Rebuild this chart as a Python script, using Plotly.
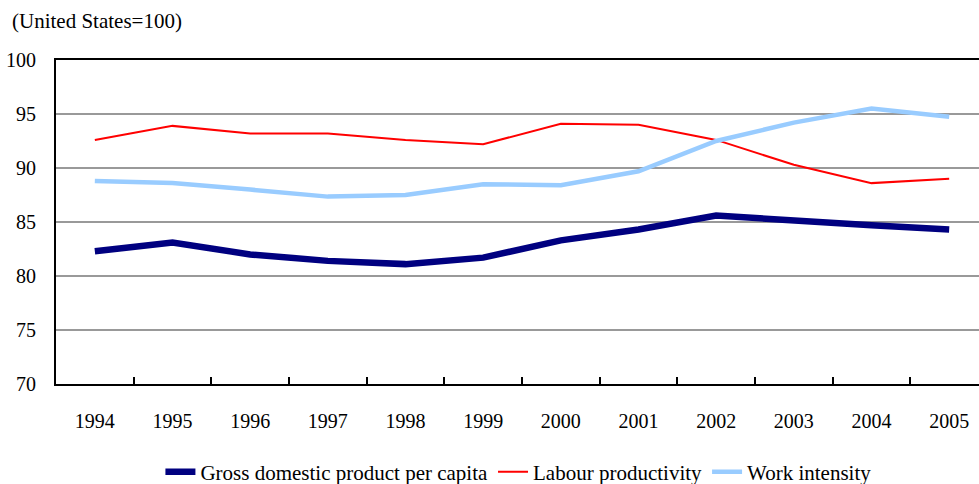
import plotly.graph_objects as go

years = ["1994", "1995", "1996", "1997", "1998", "1999", "2000", "2001", "2002", "2003", "2004", "2005"]
gdp_per_capita = [82.3, 83.1, 82.0, 81.4, 81.1, 81.7, 83.3, 84.3, 85.6, 85.1, 84.7, 84.3]
labour_productivity = [92.6, 93.9, 93.2, 93.2, 92.6, 92.2, 94.1, 94.0, 92.6, 90.3, 88.6, 89.0]
work_intensity = [88.8, 88.6, 88.0, 87.35, 87.5, 88.5, 88.4, 89.7, 92.5, 94.2, 95.5, 94.75]
y_ticks = [70, 75, 80, 85, 90, 95, 100]

FONT = "Liberation Serif"

fig = go.Figure()
fig.add_trace(go.Scatter(x=years, y=gdp_per_capita, mode="lines",
                         name="Gross domestic product per capita",
                         line=dict(color="#000080", width=6.5)))
fig.add_trace(go.Scatter(x=years, y=labour_productivity, mode="lines",
                         name="Labour productivity",
                         line=dict(color="#FF0000", width=2)))
fig.add_trace(go.Scatter(x=years, y=work_intensity, mode="lines",
                         name="Work intensity",
                         line=dict(color="#99CCFF", width=4.5)))

fig.update_layout(
    width=979, height=484,
    margin=dict(l=56, r=0, t=60, b=100, autoexpand=False),
    paper_bgcolor="white", plot_bgcolor="white",
    font=dict(family=FONT, size=21, color="black"),
    showlegend=True,
    legend=dict(orientation="h", x=0.501, xanchor="center", y=-0.272, yanchor="middle",
                itemwidth=30),
    annotations=[dict(text="(United States=100)", xref="paper", yref="paper",
                      x=-46/923, y=1 + 39/324, xanchor="left", yanchor="middle",
                      showarrow=False, font=dict(family=FONT, size=21))],
)
fig.update_xaxes(type="category", range=[-0.5, 11.384], tickson="boundaries",
                 ticks="inside", ticklen=7, tickwidth=2, tickcolor="black",
                 showline=True, linecolor="black", linewidth=2, mirror=True,
                 showgrid=False, ticklabelstandoff=18, automargin=False,
                 tickfont=dict(family=FONT, size=20))
fig.update_yaxes(range=[70, 100], tickvals=y_ticks, showgrid=True,
                 gridcolor="#999999", gridwidth=2, showline=True,
                 linecolor="black", linewidth=2, ticks="", zeroline=False,
                 ticklabelstandoff=14, automargin=False,
                 tickfont=dict(family=FONT, size=20))

fig.write_html("out.html", config={"displayModeBar": False},
               post_script="document.body.style.margin='0px';")
